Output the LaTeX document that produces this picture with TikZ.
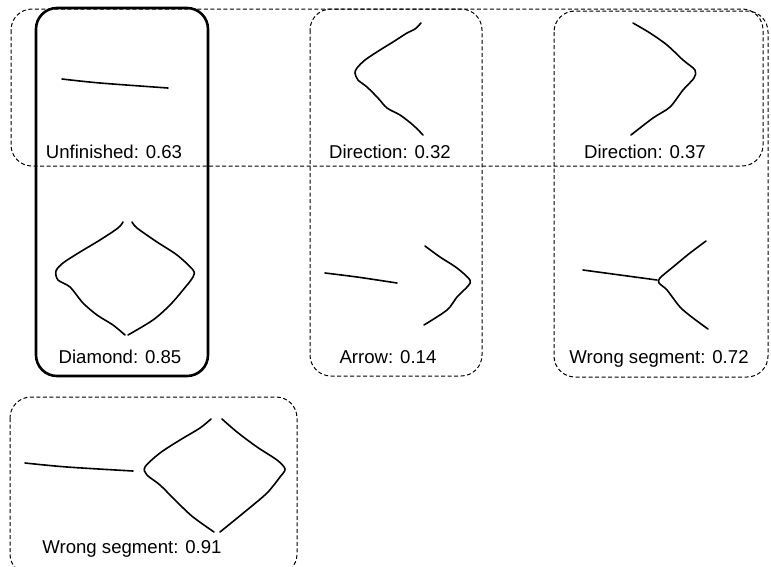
\documentclass[tikz,border=0pt]{standalone}
\usepackage{fontspec}
\setmainfont{Liberation Sans}
\begin{document}
\begin{tikzpicture}[x=1pt,y=-1pt,
  dbox/.style={draw,dashed,dash pattern=on 4pt off 2.5pt,line width=1pt,rounded corners=21pt},
  bbox/.style={draw,line width=2.6pt,rounded corners=21pt},
  stroke/.style={line width=1.6pt,line cap=round,line join=round},
  lbl/.style={font=\fontsize{18.6}{20}\selectfont,inner sep=0pt,anchor=base}]
\useasboundingbox (0,0) rectangle (771,566);
\clip (0,0) rectangle (771,566);
% boxes
\draw[dbox] (11,9) rectangle (763,166);
\draw[bbox] (36,8) rectangle (208,376);
\draw[dbox] (310,9) rectangle (482,376);
\draw[dbox] (554,11) rectangle (768,377);
\draw[dbox] (10,397) rectangle (297,575);
% labels
\node[lbl] (t1) at (114,158) {Unfinished: 0.63};
\node[lbl] (t2) at (390,158) {Direction: 0.32};
\node[lbl] (t3) at (645,158) {Direction: 0.37};
\node[lbl] (t4) at (120,363) {Diamond: 0.85};
\node[lbl] (t5) at (388,363) {Arrow: 0.14};
\node[lbl] (t6) at (659,363) {Wrong segment: 0.72};
\node[lbl] (t7) at (132,553) {Wrong segment: 0.91};
% sketches
\begin{scope}[stroke]
% unfinished
\draw plot[smooth] coordinates {(62,79) (100,83) (168,88)};
% direction 0.32
\draw plot[smooth,tension=0.5] coordinates {(421,23) (415,29) (407,33) (393,42) (380,50) (365,60) (357,68) (355,73) (358,80) (367,87) (378,98) (387,108) (400,115) (413,125) (423,135)};
% direction 0.37
\draw plot[smooth,tension=0.5] coordinates {(633,23) (650,33) (667,45) (683,60) (695,70) (694,78) (683,90) (670,107) (653,118) (631,135)};
% diamond 0.85
\draw plot[smooth,tension=0.5] coordinates {(123,222) (118,228) (100,240) (80,252) (63,263) (56,271) (58,280) (70,287) (83,303) (97,315) (113,325) (125,335)};
\draw plot[smooth,tension=0.5] coordinates {(132,222) (137,228) (157,242) (177,255) (193,270) (193,277) (183,290) (170,305) (153,320) (128,335)};
% arrow
\draw plot[smooth] coordinates {(325,273) (357,277) (397,283)};
\draw plot[smooth,tension=0.5] coordinates {(425,246) (440,257) (457,268) (470,280) (468,286) (457,297) (447,310) (424,325)};
% wrong segment 0.72
\draw plot[smooth] coordinates {(583,270) (620,275) (657,280)};
\draw plot[smooth,tension=0.5] coordinates {(706,241) (690,253) (673,267) (660,278) (659,283) (667,290) (680,307) (693,318) (708,329)};
% wrong segment 0.91
\draw plot[smooth] coordinates {(25,463) (67,467) (133,471)};
\draw plot[smooth,tension=0.5] coordinates {(211,419) (200,428) (180,440) (160,453) (145,467) (147,475) (160,485) (177,502) (193,517) (214,532)};
\draw plot[smooth,tension=0.5] coordinates {(222,419) (237,432) (257,447) (277,460) (285,469) (280,477) (267,493) (247,510) (220,532)};
\end{scope}
\end{tikzpicture}
\end{document}
